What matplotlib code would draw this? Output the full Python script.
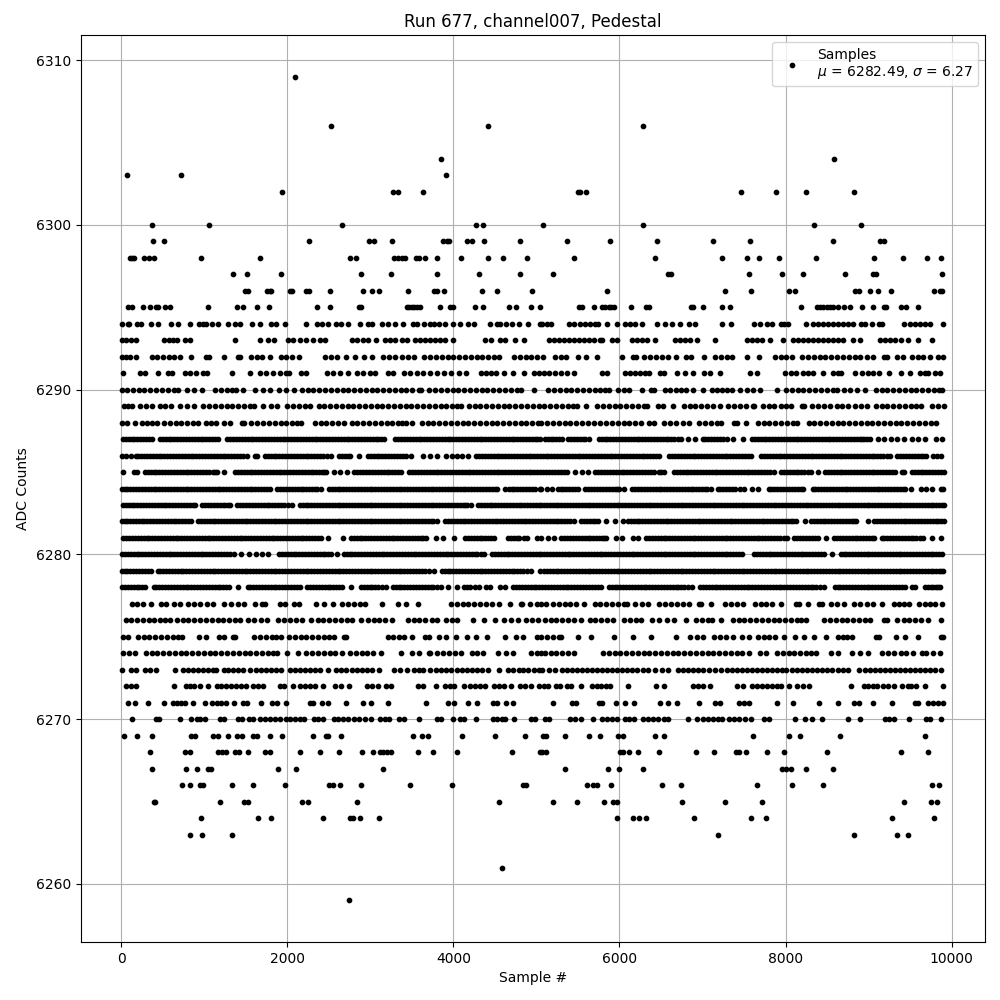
import matplotlib
matplotlib.use('Agg')
import matplotlib.pyplot as plt

# sample numbers per ADC level
# (in the solid bands single points can't be told apart, so these follow the visible runs)
s6259 = [2746]
s6261 = [4591]
s6263 = [828, 973, 1335, 7190, 8825, 9343, 9475]
s6264 = [961, 1648, 1805, 2432, 2750, 2790, 2878, 3107, 5964, 6168, 6240, 6325, 6902, 7587, 7768, 9283, 9788]
s6265 = [400, 412, 1190, 1483, 1523, 2179, 2251, 2842, 4555, 5194, 5483, 5808, 5916, 5968, 6757, 7275, 7720, 9427, 9751, 9820]
s6266 = [732, 828, 945, 985, 1335, 1588, 1974, 2504, 2553, 2637, 2890, 3481, 3988, 4836, 4872, 5603, 5675, 5727, 5892, 6517, 6745, 7659, 8080, 8453, 9764, 9852]
s6267 = [370, 780, 913, 1045, 1085, 1889, 2106, 3156, 5339, 5856, 6000, 6289, 7960, 8004, 8068, 8248, 8573]
s6268 = [346, 768, 824, 1166, 1214, 1262, 1371, 1419, 1528, 1733, 1793, 2155, 2396, 2625, 2902, 3035, 3116, 3156, 3196, 3244, 3578, 3759, 4048, 4711, 5037, 5066, 5118, 6008, 6048, 6120, 6228, 6481, 6926, 7142, 7403, 7443, 7527, 7780, 7984, 8501, 9391, 9715]
s6269 = [32, 189, 370, 836, 884, 1105, 1166, 1286, 1395, 1459, 1588, 1636, 1793, 1938, 2312, 2472, 2496, 2649, 3518, 3626, 3690, 4108, 4506, 4868, 5078, 5118, 5339, 5627, 5760, 5988, 6048, 6433, 6541, 7611, 8044, 8176, 8657, 9679]
s6270 = [129, 422, 454, 708, 840, 913, 953, 1013, 1186, 1234, 1407, 1455, 1536, 1588, 1668, 1729, 1789, 1849, 1910, 1982, 2038, 2090, 2151, 2203, 2320, 2372, 2424, 2561, 2613, 2673, 2734, 2802, 2866, 2934, 3011, 3116, 3176, 3228, 3349, 3405, 3590, 3799, 3847, 3992, 4080, 4128, 4269, 4482, 4522, 4583, 4623, 4728, 4937, 4977,
         5106, 5146, 5407, 5467, 5535, 5675, 5788, 5848, 5908, 5968, 6068, 6120, 6180, 6281, 6349, 6409, 6469, 6537, 6589, 6830, 6938, 7010, 7070, 7130, 7190, 7238, 7323, 7383, 7443, 7511, 7579, 7739, 7804, 8112, 8236, 8317, 8441, 8753, 8898, 9194, 9246, 9302, 9491, 9695, 9743, 9872]
s6271 = [80, 161, 322, 515, 623, 675, 724, 764, 864, 1005, 1097, 1154, 1206, 1266, 1355, 1467, 1516, 1684, 1817, 1881, 1990, 2271, 2312, 2412, 2492, 2709, 2914, 3011, 3216, 3670, 3940, 4008, 4181, 4281, 4474, 4522, 4639, 4715,
         5194, 5427, 5479, 5748, 5788, 5952, 6072, 6180, 6493, 6589, 6689, 6962, 7150, 7210, 7443, 7499, 7563, 7900, 8092, 8405, 8633, 8825, 8886, 9054, 9283, 9555, 9595, 9715, 9775, 9836, 9896]
s6272 = [60, 115, 173, 631, 776, 824, 872, 953, 1045, 1154, 1206, 1266, 1327, 1387, 1447, 1507, 1588, 1648, 1709, 1910, 1962, 2070, 2151, 2211, 2271, 2332, 2424, 2573, 2641, 2746, 2955, 3015, 3095, 3188, 3248, 3570, 3630, 3787, 3899, 3960, 4012, 4133, 4201, 4261, 4321, 4382, 4494, 4555, 4611, 4695, 4796, 4864, 4937, 5025,
         5086, 5134, 5238, 5287, 5367, 5415, 5535, 5667, 5727, 5780, 5840, 5888, 6104, 6445, 6533, 6882, 6950, 7010, 7090, 7411, 7483, 7591, 7651, 7712, 7772, 7832, 7892, 7940, 8040, 8140, 8212, 8284, 8790, 8946, 8994, 9054, 9102, 9174, 9234, 9302, 9399, 9475, 9515, 9575, 9679, 9896]
s6273 = [13, 121, 181, 281, 342, 418, 647, 744, 804, 864, 925, 985, 1045, 1105, 1146, 1234, 1286, 1347, 1407, 1467, 1548, 1620, 1688, 1749, 1809, 1869, 1930, 2030, 2090, 2151, 2211, 2271, 2332, 2392, 2492, 2585, 2641, 2705, 2774, 2834, 2894, 2955, 3015, 3103, 3284, 3357, 3437, 3526, 3590, 3638, 3723, 3791, 3847, 3911, 3968, 4040, 4100, 4161, 4221, 4281, 4342, 4422, 4555, 4663, 4723, 4784, 4844, 4904, 4965, 5025, 5066,
         5146, 5226, 5307, 5367, 5427, 5487, 5547, 5607, 5667, 5727, 5788, 5848, 5908, 5968, 6028, 6088, 6148, 6208, 6289, 6349, 6429, 6509, 6589, 6709, 6769, 6830, 6890, 6950, 7010, 7082, 7150, 7218, 7291, 7351, 7411, 7471, 7531, 7591, 7651, 7712, 7772, 7832, 7892, 7952, 8004, 8072, 8132, 8192, 8252, 8312, 8373, 8433, 8493, 8561, 8633, 8693, 8753, 8886, 8954, 9014, 9074, 9134, 9194, 9254, 9314, 9375, 9435, 9495, 9555, 9615, 9675, 9735, 9795, 9876]
s6274 = [20, 90, 169, 293, 365, 435, 505, 575, 645, 715, 785, 855, 925, 995, 1065, 1135, 1205, 1275, 1345, 1415, 1485, 1555, 1625, 1695, 1765, 1825, 1877, 1998, 2131, 2231, 2300, 2370, 2440, 2510, 2580, 2661, 2754, 2825, 2895, 2965, 3035, 3124, 3365, 3501, 3586, 3703, 3715, 3803, 3875, 3945, 4015, 4088, 4225, 4290, 4358, 4534, 4631, 4723, 4937, 5005, 5060,
         5100, 5170, 5240, 5310, 5380, 5447, 5800, 5870, 5940, 6010, 6080, 6150, 6220, 6290, 6360, 6430, 6500, 6570, 6640, 6710, 6780, 6850, 6920, 6990, 7060, 7130, 7200, 7270, 7340, 7410, 7480, 7559, 7691, 7763, 7896, 7965, 8035, 8105, 8175, 8245, 8305, 8361, 8545, 8629, 8797, 8890, 8990, 9166, 9235, 9302, 9387, 9445, 9539, 9647, 9695, 9780, 9856]
s6275 = [20, 76, 205, 270, 340, 410, 480, 550, 620, 680, 732, 933, 1025, 1178, 1234, 1347, 1375, 1600, 1670, 1740, 1810, 1870, 1925, 2022, 2090, 2160, 2230, 2300, 2370, 2440, 2500, 2561, 2685, 2701, 3208, 3270, 3340, 3405, 3505, 3662, 3707, 3831, 3907, 4028, 4161, 4269, 4410, 4623, 4755, 4844, 5005,
         5060, 5130, 5200, 5270, 5295, 5495, 5660, 5936, 6160, 6377, 6681, 6850, 6930, 7010, 7142, 7210, 7279, 7371, 7471, 7563, 7663, 7735, 7805, 7875, 7980, 8112, 8220, 8341, 8481, 8625, 8690, 8745, 8801, 9086, 9122, 9335, 9435, 9595, 9868, 9896]
s6276 = [52, 120, 190, 260, 330, 400, 470, 530, 583, 671, 740, 810, 880, 950, 1020, 1090, 1160, 1230, 1300, 1370, 1427, 1524, 1600, 1680, 1757, 1889, 1960, 2030, 2100, 2179, 2280, 2364, 2435, 2505, 2575, 2645, 2715, 2785, 2882, 2967, 3040, 3110, 3180, 3264, 3449, 3520, 3590, 3660, 3739, 3805, 3911, 3980, 4048, 4241, 4370, 4506, 4615, 4690, 4772, 4876, 4945, 5015,
         5098, 5170, 5240, 5310, 5380, 5450, 5535, 5639, 5710, 5780, 5850, 5916, 6060, 6130, 6200, 6256, 6397, 6481, 6570, 6657, 6797, 6922, 6990, 7060, 7118, 7218, 7363, 7435, 7505, 7575, 7645, 7715, 7785, 7855, 7925, 7995, 8065, 8135, 8180, 8240, 8465, 8535, 8605, 8675, 8745, 8815, 8885, 8955, 9022, 9186, 9222, 9347, 9420, 9490, 9560, 9630, 9711, 9868]
s6277 = [125, 190, 260, 358, 474, 540, 630, 712, 808, 880, 950, 1030, 1105, 1242, 1320, 1403, 1479, 1612, 1692, 1737, 1910, 1978, 2082, 2139, 2344, 2440, 2545, 2657, 2730, 2800, 2870, 2935, 3140, 3332, 3429, 3578, 3972, 4040, 4110, 4180, 4250, 4320, 4390, 4460, 4551, 4687, 4816, 4832, 4917, 5005,
         5060, 5110, 5198, 5270, 5340, 5410, 5480, 5575, 5700, 5770, 5840, 5910, 5980, 6050, 6096, 6192, 6270, 6349, 6481, 6550, 6620, 6690, 6760, 6838, 6954, 6986, 7098, 7266, 7340, 7415, 7491, 7631, 7700, 7770, 7840, 7948, 8124, 8160, 8273, 8405, 8433, 8545, 8620, 8701, 8826, 8900, 8980, 9054, 9162, 9307, 9365, 9423, 9487, 9607, 9675, 9740, 9804, 9884]
s6278 = [13, 80, 150, 220, 289, 394, 460, 530, 600, 670, 740, 810, 880, 950, 1020, 1090, 1160, 1230, 1300, 1403, 1524, 1590, 1660, 1730, 1800, 1870, 1940, 2010, 2080, 2147, 2243, 2310, 2380, 2450, 2520, 2590, 2660, 2762, 2886, 2955, 3025, 3095, 3184, 3268, 3340, 3410, 3480, 3550, 3620, 3690, 3760, 3847, 3932, 4048, 4133, 4200, 4309, 4394, 4442, 4563, 4619, 4723, 4790, 4860, 4930, 5000,
         5070, 5140, 5210, 5280, 5350, 5420, 5490, 5560, 5630, 5700, 5776, 5872, 5940, 6010, 6080, 6150, 6220, 6290, 6360, 6430, 6500, 6570, 6640, 6710, 6780, 6878, 6970, 7040, 7110, 7180, 7250, 7320, 7390, 7460, 7530, 7600, 7670, 7740, 7810, 7880, 7950, 8020, 8090, 8160, 8230, 8300, 8370, 8461, 8593, 8660, 8730, 8800, 8870, 8940, 9010, 9080, 9150, 9220, 9290, 9360, 9443, 9527, 9555, 9675, 9745, 9810, 9856,
         45, 115, 185, 255, 425, 495, 565, 635, 705, 775, 845, 915, 985, 1055, 1125, 1195, 1265, 1555, 1625, 1695, 1765, 1835, 1905, 1975, 2045, 2115, 2275, 2345, 2415, 2485, 2555, 2625, 2920, 2990, 3060, 3140, 3305, 3375, 3445, 3515, 3585, 3655, 3725, 3800, 4165, 4260,
         4755, 4825, 4895, 4965, 5035, 5105, 5175, 5245, 5315, 5385, 5455, 5525, 5595, 5665, 5740, 5905, 5975, 6045, 6115, 6185, 6255, 6325, 6395, 6465, 6535, 6605, 6675, 6745, 6830, 7005, 7075, 7145, 7215, 7285, 7355, 7425, 7495, 7565, 7635, 7705, 7775, 7845, 7915, 7985, 8055, 8125, 8195, 8265, 8335, 8415, 8625, 8695, 8765, 8835, 8905, 8975, 9045, 9115, 9185, 9255, 9325, 9400, 9710, 9780, 9835]
s6279 = [13, 75, 145, 215, 285, 358, 438, 505, 575, 645, 715, 785, 855, 925, 995, 1065, 1135, 1205, 1275, 1345, 1415, 1485, 1555, 1625, 1695, 1765, 1835, 1905, 1975, 2045, 2115, 2185, 2255, 2325, 2395, 2465, 2535, 2605, 2675, 2745, 2815, 2885, 2955, 3025, 3095, 3165, 3235, 3305, 3375, 3445, 3515, 3585, 3655, 3767, 3863, 3930, 4000, 4070, 4140, 4210, 4280, 4350, 4420, 4490, 4560, 4630, 4700, 4770, 4840, 4933, 5040,
         5090, 5160, 5230, 5300, 5370, 5440, 5510, 5580, 5650, 5720, 5790, 5860, 5930, 6000, 6070, 6140, 6210, 6280, 6350, 6420, 6490, 6560, 6630, 6700, 6770, 6840, 6910, 6980, 7050, 7120, 7190, 7260, 7330, 7400, 7470, 7540, 7610, 7680, 7750, 7820, 7890, 7960, 8030, 8100, 8170, 8240, 8310, 8380, 8450, 8520, 8590, 8660, 8730, 8800, 8870, 8940, 9010, 9080, 9150, 9220, 9290, 9360, 9430, 9500, 9570, 9640, 9710, 9780, 9850, 9896,
         45, 110, 180, 250, 320, 470, 540, 610, 680, 750, 820, 890, 960, 1030, 1100, 1170, 1240, 1310, 1380, 1450, 1520, 1590, 1660, 1730, 1800, 1870, 1940, 2010, 2080, 2150, 2220, 2290, 2360, 2430, 2500, 2570, 2640, 2710, 2780, 2850, 2920, 2990, 3060, 3130, 3200, 3270, 3340, 3410, 3480, 3550, 3620, 3710, 3895, 3965, 4035, 4105, 4175, 4245, 4315, 4385, 4455, 4525, 4595, 4665, 4735, 4805, 4885,
         5125, 5195, 5265, 5335, 5405, 5475, 5545, 5615, 5685, 5755, 5825, 5895, 5965, 6035, 6105, 6175, 6245, 6315, 6385, 6455, 6525, 6595, 6665, 6735, 6805, 6875, 6945, 7015, 7085, 7155, 7225, 7295, 7365, 7435, 7505, 7575, 7645, 7715, 7785, 7855, 7925, 7995, 8065, 8135, 8205, 8275, 8345, 8415, 8485, 8555, 8625, 8695, 8765, 8835, 8905, 8975, 9045, 9115, 9185, 9255, 9325, 9395, 9465, 9535, 9605, 9675, 9745, 9815, 9875]
s6280 = [13, 80, 150, 220, 290, 360, 430, 500, 570, 640, 710, 780, 850, 920, 990, 1060, 1130, 1200, 1270, 1355, 1447, 1540, 1620, 1696, 1769, 1901, 1970, 2040, 2110, 2180, 2250, 2320, 2390, 2460, 2521, 2602, 2685, 2750, 2820, 2890, 2960, 3030, 3100, 3170, 3240, 3310, 3380, 3450, 3520, 3590, 3660, 3730, 3800, 3870, 3940, 4010, 4080, 4150, 4220, 4290, 4370, 4466, 4535, 4605, 4675, 4745, 4815, 4885, 4955, 5025,
         5095, 5165, 5235, 5305, 5375, 5445, 5515, 5585, 5655, 5725, 5795, 5865, 5935, 6005, 6075, 6145, 6215, 6285, 6355, 6425, 6495, 6565, 6635, 6705, 6775, 6845, 6915, 6985, 7055, 7125, 7195, 7265, 7335, 7405, 7479, 7623, 7690, 7760, 7830, 7900, 7970, 8040, 8110, 8180, 8250, 8320, 8390, 8460, 8561, 8665, 8730, 8800, 8870, 8940, 9010, 9080, 9150, 9220, 9290, 9360, 9430, 9500, 9570, 9640, 9710, 9780, 9850, 9884,
         45, 115, 185, 255, 325, 395, 465, 535, 605, 675, 745, 815, 885, 955, 1025, 1095, 1165, 1235, 1310, 1935, 2005, 2075, 2145, 2215, 2285, 2355, 2425, 2490, 2715, 2785, 2855, 2925, 2995, 3065, 3135, 3205, 3275, 3345, 3415, 3485, 3555, 3625, 3695, 3765, 3835, 3905, 3975, 4045, 4115, 4185, 4255, 4330, 4500, 4570, 4640, 4710, 4780, 4850, 4920, 4990,
         5060, 5130, 5200, 5270, 5340, 5410, 5480, 5550, 5620, 5690, 5760, 5830, 5900, 5970, 6040, 6110, 6180, 6250, 6320, 6390, 6460, 6530, 6600, 6670, 6740, 6810, 6880, 6950, 7020, 7090, 7160, 7230, 7300, 7370, 7440, 7655, 7725, 7795, 7865, 7935, 8005, 8075, 8145, 8215, 8285, 8355, 8425, 8700, 8765, 8835, 8905, 8975, 9045, 9115, 9185, 9255, 9325, 9395, 9465, 9535, 9605, 9675, 9745, 9815]
s6281 = [24, 95, 165, 235, 305, 375, 445, 515, 585, 655, 725, 795, 865, 935, 1005, 1075, 1145, 1215, 1285, 1355, 1425, 1495, 1565, 1635, 1705, 1775, 1845, 1915, 1985, 2055, 2125, 2195, 2265, 2335, 2400, 2488, 2665, 2766, 2835, 2905, 2975, 3045, 3115, 3185, 3255, 3325, 3395, 3465, 3535, 3605, 3666, 3791, 3879, 4012, 4141, 4210, 4280, 4350, 4420, 4490, 4655, 4725, 4795, 4892, 5005, 5060,
         5138, 5207, 5299, 5370, 5440, 5510, 5580, 5650, 5720, 5790, 5836, 5952, 6036, 6160, 6228, 6321, 6390, 6460, 6530, 6600, 6670, 6740, 6810, 6880, 6950, 7020, 7090, 7160, 7230, 7300, 7370, 7440, 7510, 7580, 7650, 7720, 7790, 7860, 7930, 8020, 8104, 8175, 8245, 8315, 8385, 8481, 8585, 8655, 8725, 8795, 8865, 8935, 9005, 9070, 9158, 9225, 9295, 9365, 9435, 9505, 9575, 9655, 9767, 9872,
         60, 130, 200, 270, 340, 410, 480, 550, 620, 690, 760, 830, 900, 970, 1040, 1110, 1180, 1250, 1320, 1390, 1460, 1530, 1600, 1670, 1740, 1810, 1880, 1950, 2020, 2090, 2160, 2230, 2300, 2370, 2800, 2870, 2940, 3010, 3080, 3150, 3220, 3290, 3360, 3430, 3500, 3570, 3640, 4175, 4245, 4315, 4385, 4455, 4690, 4760, 4845,
         5335, 5405, 5475, 5545, 5615, 5685, 5755, 5815, 6355, 6425, 6495, 6565, 6635, 6705, 6775, 6845, 6915, 6985, 7055, 7125, 7195, 7265, 7335, 7405, 7475, 7545, 7615, 7685, 7755, 7825, 7895, 7975, 8140, 8210, 8280, 8350, 8620, 8690, 8760, 8830, 8900, 8970, 9040, 9190, 9260, 9330, 9400, 9470, 9540, 9615]
s6282 = [13, 70, 140, 210, 280, 350, 420, 490, 560, 630, 700, 770, 840, 925, 995, 1065, 1135, 1205, 1275, 1345, 1415, 1485, 1555, 1625, 1695, 1765, 1835, 1905, 1975, 2045, 2115, 2185, 2255, 2325, 2395, 2465, 2535, 2605, 2675, 2745, 2815, 2885, 2955, 3025, 3095, 3165, 3235, 3305, 3375, 3445, 3515, 3585, 3655, 3725, 3799, 3900, 3970, 4040, 4110, 4180, 4250, 4320, 4390, 4460, 4530, 4600, 4670, 4740, 4810, 4880, 4950, 5020,
         5090, 5160, 5230, 5300, 5370, 5447, 5535, 5605, 5675, 5745, 5835, 5940, 6040, 6100, 6170, 6240, 6310, 6380, 6450, 6520, 6590, 6660, 6730, 6800, 6870, 6940, 7010, 7080, 7150, 7220, 7290, 7360, 7430, 7500, 7570, 7640, 7710, 7780, 7850, 7920, 7990, 8060, 8130, 8230, 8305, 8375, 8445, 8515, 8585, 8655, 8725, 8795, 8850, 8990, 9070, 9140, 9210, 9280, 9350, 9420, 9490, 9560, 9630, 9700, 9770, 9840, 9904,
         40, 105, 175, 245, 315, 385, 455, 525, 595, 665, 735, 805, 960, 1030, 1100, 1170, 1240, 1310, 1380, 1450, 1520, 1590, 1660, 1730, 1800, 1870, 1940, 2010, 2080, 2150, 2220, 2290, 2360, 2430, 2500, 2570, 2640, 2710, 2780, 2850, 2920, 2990, 3060, 3130, 3200, 3270, 3340, 3410, 3480, 3550, 3620, 3690, 3760, 3935, 4005, 4075, 4145, 4215, 4285, 4355, 4425, 4495, 4565, 4635, 4705, 4775, 4845, 4915, 4985,
         5055, 5125, 5195, 5265, 5335, 5405, 5570, 5640, 5710, 6135, 6205, 6275, 6345, 6415, 6485, 6555, 6625, 6695, 6765, 6835, 6905, 6975, 7045, 7115, 7185, 7255, 7325, 7395, 7465, 7535, 7605, 7675, 7745, 7815, 7885, 7955, 8025, 8095, 8340, 8410, 8480, 8550, 8620, 8690, 8760, 8825, 9105, 9175, 9245, 9315, 9385, 9455, 9525, 9595, 9665, 9735, 9805, 9870]
s6283 = [20, 90, 160, 230, 300, 370, 440, 510, 580, 650, 720, 790, 860, 892, 977, 1045, 1115, 1185, 1255, 1314, 1399, 1470, 1540, 1610, 1680, 1750, 1820, 1890, 1960, 2010, 2058, 2151, 2220, 2290, 2360, 2430, 2500, 2570, 2640, 2710, 2780, 2850, 2920, 2990, 3060, 3130, 3200, 3270, 3340, 3410, 3480, 3550, 3620, 3690, 3760, 3830, 3900, 3970, 4040, 4110, 4160, 4209, 4293, 4365, 4435, 4505, 4575, 4645, 4715, 4785, 4855, 4925, 4995, 5050,
         5090, 5160, 5230, 5300, 5370, 5440, 5510, 5580, 5650, 5720, 5790, 5860, 5930, 6000, 6070, 6140, 6210, 6280, 6350, 6420, 6490, 6560, 6630, 6700, 6770, 6840, 6910, 6980, 7050, 7120, 7190, 7260, 7330, 7400, 7470, 7540, 7610, 7680, 7750, 7820, 7890, 7960, 8030, 8100, 8170, 8240, 8310, 8380, 8450, 8520, 8590, 8660, 8730, 8800, 8870, 8940, 9010, 9080, 9150, 9220, 9290, 9360, 9430, 9500, 9570, 9640, 9710, 9780, 9850, 9905,
         55, 125, 195, 265, 335, 405, 475, 545, 615, 685, 755, 825, 1010, 1080, 1150, 1220, 1285, 1435, 1505, 1575, 1645, 1715, 1785, 1855, 1925, 2185, 2255, 2325, 2395, 2465, 2535, 2605, 2675, 2745, 2815, 2885, 2955, 3025, 3095, 3165, 3235, 3305, 3375, 3445, 3515, 3585, 3655, 3725, 3795, 3865, 3935, 4005, 4075, 4135, 4330, 4400, 4470, 4540, 4610, 4680, 4750, 4820, 4890, 4960, 5025,
         5125, 5195, 5265, 5335, 5405, 5475, 5545, 5615, 5685, 5755, 5825, 5895, 5965, 6035, 6105, 6175, 6245, 6315, 6385, 6455, 6525, 6595, 6665, 6735, 6805, 6875, 6945, 7015, 7085, 7155, 7225, 7295, 7365, 7435, 7505, 7575, 7645, 7715, 7785, 7855, 7925, 7995, 8065, 8135, 8205, 8275, 8345, 8415, 8485, 8555, 8625, 8695, 8765, 8835, 8905, 8975, 9045, 9115, 9185, 9255, 9325, 9395, 9465, 9535, 9605, 9675, 9745, 9815, 9880]
s6284 = [13, 75, 145, 215, 285, 355, 425, 495, 565, 635, 705, 775, 845, 915, 985, 1055, 1125, 1195, 1265, 1335, 1405, 1475, 1545, 1615, 1685, 1755, 1789, 1881, 1950, 2020, 2090, 2160, 2230, 2300, 2360, 2400, 2497, 2570, 2640, 2710, 2780, 2850, 2920, 2990, 3060, 3130, 3200, 3270, 3340, 3410, 3480, 3550, 3620, 3690, 3760, 3830, 3900, 3970, 4040, 4110, 4180, 4250, 4320, 4390, 4460, 4531, 4627, 4700, 4770, 4840, 4910, 4980, 5040,
         5060, 5130, 5190, 5255, 5325, 5395, 5465, 5503, 5587, 5660, 5730, 5800, 5870, 5940, 6000, 6056, 6152, 6225, 6295, 6365, 6435, 6505, 6575, 6645, 6715, 6785, 6855, 6925, 6995, 7050, 7098, 7182, 7250, 7320, 7390, 7445, 7499, 7595, 7667, 7796, 7865, 7935, 8005, 8075, 8145, 8212, 8325, 8395, 8465, 8535, 8605, 8675, 8745, 8815, 8885, 8955, 9025, 9095, 9165, 9235, 9305, 9375, 9443, 9507, 9627, 9695, 9763, 9868, 9896,
         45, 110, 180, 250, 320, 390, 460, 530, 600, 670, 740, 810, 880, 950, 1020, 1090, 1160, 1230, 1300, 1370, 1440, 1510, 1580, 1650, 1720, 1915, 1985, 2055, 2125, 2195, 2265, 2330, 2535, 2605, 2675, 2745, 2815, 2885, 2955, 3025, 3095, 3165, 3235, 3305, 3375, 3445, 3515, 3585, 3655, 3725, 3795, 3865, 3935, 4005, 4075, 4145, 4215, 4285, 4355, 4425, 4495, 4665, 4735, 4805, 4875, 4945,
         5290, 5360, 5430, 5625, 5695, 5765, 5835, 5905, 5970, 6190, 6260, 6330, 6400, 6470, 6540, 6610, 6680, 6750, 6820, 6890, 6960, 7025, 7215, 7285, 7355, 7830, 7900, 7970, 8040, 8110, 8180, 8360, 8430, 8500, 8570, 8640, 8710, 8780, 8850, 8920, 8990, 9060, 9130, 9200, 9270, 9340, 9410]
s6285 = [20, 153, 189, 285, 355, 425, 495, 565, 635, 705, 775, 845, 915, 985, 1055, 1105, 1154, 1238, 1371, 1440, 1510, 1580, 1650, 1720, 1790, 1860, 1930, 2000, 2070, 2140, 2210, 2280, 2350, 2420, 2468, 2557, 2640, 2722, 2806, 2880, 2950, 3020, 3090, 3160, 3230, 3300, 3373, 3469, 3540, 3610, 3680, 3750, 3820, 3890, 3960, 4030, 4100, 4170, 4240, 4310, 4380, 4450, 4520, 4590, 4660, 4730, 4800, 4870, 4940, 5010,
         5080, 5150, 5220, 5290, 5367, 5467, 5545, 5623, 5707, 5780, 5850, 5920, 5990, 6060, 6130, 6200, 6270, 6340, 6410, 6470, 6537, 6657, 6725, 6795, 6865, 6935, 7005, 7075, 7145, 7215, 7285, 7355, 7425, 7495, 7565, 7635, 7705, 7775, 7860, 7944, 8015, 8085, 8155, 8225, 8308, 8385, 8473, 8545, 8615, 8685, 8755, 8825, 8895, 8965, 9035, 9105, 9175, 9245, 9323, 9399, 9425, 9519, 9590, 9660, 9730, 9800, 9870, 9904,
         320, 390, 460, 530, 600, 670, 740, 810, 880, 950, 1020, 1130, 1405, 1475, 1545, 1615, 1685, 1755, 1825, 1895, 1965, 2035, 2105, 2175, 2245, 2315, 2385, 2445, 2840, 2915, 2985, 3055, 3125, 3195, 3265, 3335, 3505, 3575, 3645, 3715, 3785, 3855, 3925, 3995, 4065, 4135, 4205, 4275, 4345, 4415, 4485, 4555, 4625, 4695, 4765, 4835, 4905, 4975,
         5045, 5115, 5185, 5255, 5330, 5745, 5815, 5885, 5955, 6025, 6095, 6165, 6235, 6305, 6375, 6505, 6690, 6760, 6830, 6900, 6970, 7040, 7110, 7180, 7250, 7320, 7390, 7460, 7530, 7600, 7670, 7740, 7815, 7980, 8050, 8120, 8190, 8265, 8510, 8580, 8650, 8720, 8790, 8860, 8930, 9000, 9070, 9140, 9210, 9285, 9555, 9625, 9695, 9765, 9835]
s6286 = [13, 60, 117, 173, 240, 310, 380, 450, 520, 590, 660, 730, 800, 870, 940, 1010, 1080, 1150, 1220, 1290, 1360, 1430, 1516, 1612, 1636, 1729, 1800, 1870, 1940, 2010, 2080, 2150, 2220, 2290, 2360, 2430, 2521, 2617, 2690, 2760, 2862, 2967, 3040, 3110, 3180, 3250, 3320, 3390, 3485, 3630, 3720, 3807, 3911, 3980, 4045, 4108, 4180, 4273, 4345, 4415, 4485, 4555, 4625, 4695, 4765, 4835, 4905, 4975, 5040,
         5110, 5180, 5250, 5320, 5390, 5460, 5530, 5600, 5670, 5740, 5810, 5880, 5950, 6020, 6090, 6160, 6230, 6300, 6370, 6440, 6477, 6601, 6670, 6740, 6810, 6880, 6950, 7020, 7090, 7160, 7230, 7300, 7370, 7440, 7510, 7579, 7703, 7775, 7845, 7915, 7985, 8055, 8125, 8195, 8265, 8335, 8405, 8475, 8545, 8615, 8685, 8755, 8825, 8895, 8965, 9035, 9105, 9175, 9262, 9347, 9415, 9485, 9555, 9625, 9695, 9775, 9825, 9876,
         205, 275, 345, 415, 485, 555, 625, 695, 765, 835, 905, 975, 1045, 1115, 1185, 1255, 1325, 1395, 1470, 1765, 1835, 1905, 1975, 2045, 2115, 2185, 2255, 2325, 2395, 2475, 2655, 2725, 3005, 3075, 3145, 3215, 3285, 3355, 3435, 4310, 4380, 4450, 4520, 4590, 4660, 4730, 4800, 4870, 4940, 5005,
         5075, 5145, 5215, 5285, 5355, 5425, 5495, 5565, 5635, 5705, 5775, 5845, 5915, 5985, 6055, 6125, 6195, 6265, 6335, 6405, 6635, 6705, 6775, 6845, 6915, 6985, 7055, 7125, 7195, 7265, 7335, 7405, 7475, 7545, 7740, 7810, 7880, 7950, 8020, 8090, 8160, 8230, 8300, 8370, 8440, 8510, 8580, 8650, 8720, 8790, 8860, 8930, 9000, 9070, 9140, 9215, 9380, 9450, 9520, 9590, 9660]
s6287 = [20, 90, 160, 230, 300, 370, 466, 535, 605, 675, 745, 815, 885, 955, 1025, 1095, 1166, 1278, 1348, 1418, 1488, 1558, 1628, 1698, 1768, 1838, 1908, 1978, 2048, 2118, 2188, 2258, 2328, 2398, 2468, 2538, 2608, 2678, 2748, 2818, 2888, 2958, 3028, 3098, 3160, 3300, 3370, 3440, 3510, 3580, 3650, 3720, 3790, 3860, 3930, 4000, 4070, 4140, 4210, 4280, 4350, 4420, 4490, 4560, 4630, 4700, 4770, 4840, 4910, 4980, 5040,
         5100, 5170, 5240, 5303, 5379, 5450, 5520, 5590, 5635, 5752, 5820, 5890, 5960, 6030, 6100, 6170, 6240, 6310, 6380, 6450, 6520, 6590, 6660, 6737, 6822, 6906, 7002, 7070, 7140, 7210, 7290, 7371, 7483, 7595, 7665, 7735, 7805, 7875, 7945, 8015, 8085, 8155, 8225, 8295, 8365, 8435, 8505, 8575, 8645, 8715, 8785, 8855, 8925, 8975, 9022, 9118, 9190, 9270, 9347, 9423, 9519, 9600, 9683, 9808, 9884,
         55, 125, 195, 265, 335, 500, 570, 640, 710, 780, 850, 920, 990, 1060, 1130, 1313, 1383, 1453, 1523, 1593, 1663, 1733, 1803, 1873, 1943, 2013, 2083, 2153, 2223, 2293, 2363, 2433, 2503, 2573, 2643, 2713, 2783, 2853, 2923, 2993, 3063, 3130, 3335, 3405, 3475, 3545, 3615, 3685, 3755, 3825, 3895, 3965, 4035, 4105, 4175, 4245, 4315, 4385, 4455, 4525, 4595, 4665, 4735, 4805, 4875, 4945, 5010,
         5135, 5205, 5270, 5415, 5485, 5555, 5785, 5855, 5925, 5995, 6065, 6135, 6205, 6275, 6345, 6415, 6485, 6555, 6625, 6700, 7035, 7105, 7175, 7250, 7630, 7700, 7770, 7840, 7910, 7980, 8050, 8120, 8190, 8260, 8330, 8400, 8470, 8540, 8610, 8680, 8750, 8820, 8890, 8950]
s6288 = [13, 64, 161, 245, 310, 370, 430, 515, 585, 655, 725, 795, 860, 921, 1025, 1081, 1142, 1238, 1315, 1459, 1475, 1568, 1640, 1710, 1780, 1850, 1920, 1990, 2060, 2115, 2167, 2332, 2400, 2470, 2540, 2610, 2681, 2774, 2845, 2915, 2985, 3055, 3125, 3195, 3265, 3335, 3385, 3425, 3497, 3622, 3690, 3760, 3830, 3900, 3970, 4040, 4110, 4180, 4250, 4320, 4390, 4460, 4530, 4600, 4670, 4740, 4810, 4880, 4950, 5020,
         5060, 5130, 5200, 5270, 5340, 5410, 5480, 5550, 5620, 5690, 5760, 5840, 5910, 5980, 6050, 6120, 6190, 6256, 6360, 6416, 6541, 6610, 6680, 6760, 6838, 6962, 7030, 7100, 7170, 7225, 7383, 7420, 7523, 7664, 7735, 7805, 7875, 7945, 8015, 8085, 8140, 8276, 8345, 8415, 8485, 8555, 8625, 8695, 8765, 8835, 8905, 8975, 9045, 9115, 9185, 9255, 9325, 9395, 9465, 9535, 9605, 9675, 9745, 9812]
s6289 = [36, 80, 129, 221, 300, 370, 462, 530, 599, 708, 790, 872, 989, 1060, 1130, 1200, 1270, 1340, 1410, 1480, 1550, 1596, 1713, 1800, 1877, 2002, 2070, 2140, 2210, 2279, 2376, 2445, 2515, 2585, 2655, 2725, 2795, 2865, 2935, 3005, 3075, 3145, 3215, 3285, 3355, 3425, 3495, 3565, 3635, 3705, 3775, 3845, 3915, 3985, 4040, 4088, 4185, 4255, 4325, 4395, 4465, 4535, 4605, 4675, 4745, 4815, 4885, 4955, 5025,
         5095, 5165, 5235, 5305, 5375, 5445, 5487, 5595, 5728, 5800, 5870, 5940, 6010, 6080, 6150, 6220, 6290, 6328, 6469, 6529, 6649, 6774, 6845, 6915, 6985, 7055, 7125, 7206, 7303, 7375, 7445, 7519, 7603, 7620, 7724, 7795, 7865, 7940, 8010, 8060, 8196, 8220, 8316, 8390, 8460, 8533, 8613, 8685, 8755, 8830, 8905, 8980, 9086, 9155, 9225, 9295, 9365, 9435, 9505, 9575, 9630, 9767, 9835, 9904]
s6290 = [13, 70, 140, 210, 280, 350, 420, 490, 560, 630, 690, 796, 880, 973, 1130, 1200, 1270, 1330, 1387, 1467, 1608, 1709, 1797, 1901, 1990, 2078, 2175, 2245, 2315, 2385, 2455, 2525, 2595, 2665, 2735, 2805, 2875, 2945, 3015, 3085, 3155, 3225, 3295, 3365, 3435, 3505, 3590, 3610, 3711, 3780, 3850, 3920, 3990, 4060, 4130, 4200, 4270, 4340, 4410, 4480, 4550, 4620, 4690, 4760, 4812, 4965,
         5138, 5210, 5280, 5350, 5420, 5490, 5560, 5630, 5700, 5770, 5820, 5876, 5980, 6050, 6116, 6268, 6380, 6416, 6545, 6610, 6680, 6745, 6798, 6890, 7002, 7110, 7170, 7230, 7290, 7350, 7450, 7530, 7610, 7690, 7892, 8004, 8075, 8145, 8215, 8285, 8355, 8425, 8495, 8565, 8620, 8700, 8775, 8855, 8955, 9086, 9155, 9225, 9295, 9365, 9435, 9505, 9575, 9645, 9715, 9785, 9850, 9884]
s6291 = [20, 221, 281, 442, 563, 615, 768, 828, 900, 981, 1037, 1338, 1548, 1676, 1749, 1829, 1910, 1990, 2022, 2159, 2223, 2473, 2553, 2633, 2734, 2834, 2914, 2995, 3055, 3216, 3276, 3405, 3477, 3558, 3638, 3723, 3807, 3887, 3968, 4068, 4148, 4330, 4390, 4450, 4511, 4611, 4723, 4852, 4965, 5033,
         5086, 5146, 5226, 5295, 5367, 5447, 5788, 5848, 6068, 6128, 6188, 6248, 6309, 6361, 6489, 6537, 6697, 6790, 6890, 7018, 7090, 7210, 7571, 7651, 7992, 8060, 8124, 8212, 8273, 8333, 8453, 8573, 8633, 8673, 8834, 8914, 8994, 9054, 9126, 9242, 9395, 9495, 9615, 9675, 9715, 9795, 9856]
s6292 = [13, 60, 110, 180, 372, 430, 500, 570, 640, 704, 844, 1017, 1053, 1238, 1411, 1435, 1560, 1630, 1700, 1797, 1921, 1990, 2060, 2139, 2456, 2530, 2600, 2702, 2818, 2923, 3023, 3156, 3230, 3300, 3380, 3450, 3526, 3650, 3720, 3790, 3860, 3930, 4000, 4070, 4140, 4210, 4280, 4350, 4420, 4490, 4551, 4735, 4800, 4870, 4940, 5010, 5080,
         5220, 5290, 5356, 5500, 5596, 5728, 6036, 6160, 6196, 6300, 6370, 6440, 6510, 6590, 6676, 6800, 6864, 7020, 7152, 7220, 7290, 7356, 7536, 7680, 7868, 7940, 8010, 8076, 8200, 8270, 8340, 8410, 8480, 8550, 8620, 8690, 8760, 8830, 8900, 8975, 9048, 9190, 9218, 9340, 9416, 9520, 9590, 9660, 9736, 9840, 9896]
s6293 = [13, 60, 121, 173, 510, 570, 623, 675, 764, 824, 1371, 1668, 1769, 1837, 2010, 2070, 2151, 2231, 2312, 2392, 2452, 2774, 2834, 2914, 2975, 3067, 3176, 3236, 3296, 3377, 3437, 3538, 3598, 3658, 3719, 3779, 3839, 3899, 4000, 4382, 4450, 4563, 4623, 4743, 4852,
         5146, 5206, 5267, 5327, 5387, 5447, 5507, 5567, 5627, 5687, 5760, 5788, 5908, 5968, 6148, 6208, 6268, 6328, 6429, 6669, 6729, 6790, 6850, 6930, 7150, 7539, 7599, 7659, 7719, 7812, 7972, 8092, 8152, 8212, 8272, 8332, 8392, 8453, 8513, 8573, 8633, 8693, 8814, 8894, 9134, 9194, 9254, 9314, 9395, 9475, 9595, 9767]
s6294 = [13, 80, 100, 193, 241, 354, 442, 603, 683, 828, 937, 985, 1017, 1094, 1166, 1286, 1371, 1427, 1580, 1668, 1809, 1869, 1970, 2227, 2352, 2412, 2492, 2585, 2641, 2734, 2878, 2967, 3015, 3140, 3216, 3296, 3389, 3518, 3566, 3650, 3719, 3771, 3831, 3903, 4000, 4080, 4181, 4249, 4442, 4522, 4563, 4635, 4703, 4784, 4904, 5045,
         5066, 5126, 5174, 5387, 5447, 5527, 5587, 5647, 5707, 5747, 5844, 5968, 6068, 6128, 6188, 6265, 6457, 6553, 6637, 6733, 6842, 6910, 7238, 7339, 7619, 7691, 7780, 7840, 7940, 7984, 8032, 8240, 8332, 8392, 8453, 8513, 8573, 8633, 8693, 8753, 8813, 8902, 8962, 9042, 9126, 9166, 9427, 9495, 9555, 9615, 9675, 9735, 9896]
s6295 = [80, 129, 261, 346, 422, 446, 527, 587, 1041, 1395, 1467, 1636, 1781, 2360, 2517, 2866, 2890, 3437, 3470, 3500, 3530, 3560, 3598, 3843, 3960, 4000, 4265, 4362, 4675, 4748, 4929, 5037, 5511, 5547, 5699, 5792, 5828, 5868, 5900, 5928, 6144, 6321, 6353, 6862, 6890, 7010, 7238, 7335, 8188, 8381, 8413, 8453, 8493, 8533, 8573, 8633, 8705, 8777, 8914, 9054, 9186, 9214, 9391, 9455, 9595]
s6296 = [1491, 1524, 1757, 1789, 1805, 2030, 2062, 2223, 2263, 2517, 2914, 3023, 3107, 3457, 3771, 3807, 3891, 4350, 4531, 4941, 5844, 7275, 7587, 8044, 8108, 8838, 8886, 9018, 9114, 9270, 9787, 9856, 9888]
s6297 = [1347, 1516, 1926, 2890, 3252, 3807, 4313, 4796, 5194, 6589, 6617, 7563, 7960, 8212, 8718, 9054, 9086, 9884]
s6298 = [108, 133, 157, 273, 338, 398, 961, 1672, 2758, 2830, 3288, 3328, 3377, 3421, 3550, 3590, 3662, 3807, 4096, 4422, 4603, 4892, 5447, 6433, 7238, 7539, 7683, 7924, 8369, 9066, 9415, 9703, 9872]
s6299 = [382, 515, 2263, 2983, 3039, 3264, 3879, 3920, 3952, 4169, 4229, 4374, 4796, 5363, 5880, 6457, 7130, 7575, 8573, 9138, 9186]
s6300 = [370, 1057, 2661, 4277, 4362, 5078, 6277, 8345, 8910]
s6302 = [1938, 3276, 3337, 3638, 5499, 5520, 5595, 7467, 7880, 8248, 8825]
s6303 = [68, 720, 3915]
s6304 = [3855, 8585]
s6306 = [2529, 4422, 6277]
s6309 = [2094]

levels = {6259: s6259, 6261: s6261, 6263: s6263, 6264: s6264, 6265: s6265, 6266: s6266, 6267: s6267,
          6268: s6268, 6269: s6269, 6270: s6270, 6271: s6271, 6272: s6272, 6273: s6273, 6274: s6274,
          6275: s6275, 6276: s6276, 6277: s6277, 6278: s6278, 6279: s6279, 6280: s6280, 6281: s6281,
          6282: s6282, 6283: s6283, 6284: s6284, 6285: s6285, 6286: s6286, 6287: s6287, 6288: s6288,
          6289: s6289, 6290: s6290, 6291: s6291, 6292: s6292, 6293: s6293, 6294: s6294, 6295: s6295,
          6296: s6296, 6297: s6297, 6298: s6298, 6299: s6299, 6300: s6300, 6302: s6302, 6303: s6303,
          6304: s6304, 6306: s6306, 6309: s6309}

x = []
y = []
for adc, samples in levels.items():
    x += samples
    y += [adc] * len(samples)

plt.figure(figsize=(10, 10))
plt.plot(x, y, 'k.', markersize=6.2, label='Samples\n$\\mu$ = 6282.49, $\\sigma$ = 6.27')
plt.xlim(-490, 10401)
plt.ylim(6256.48, 6311.52)
plt.title('Run 677, channel007, Pedestal')
plt.xlabel('Sample #')
plt.ylabel('ADC Counts')
plt.grid()
plt.legend(loc='upper right')
plt.subplots_adjust(left=0.0805, right=0.985, top=0.965, bottom=0.058)
plt.savefig('out.png', dpi=100)
